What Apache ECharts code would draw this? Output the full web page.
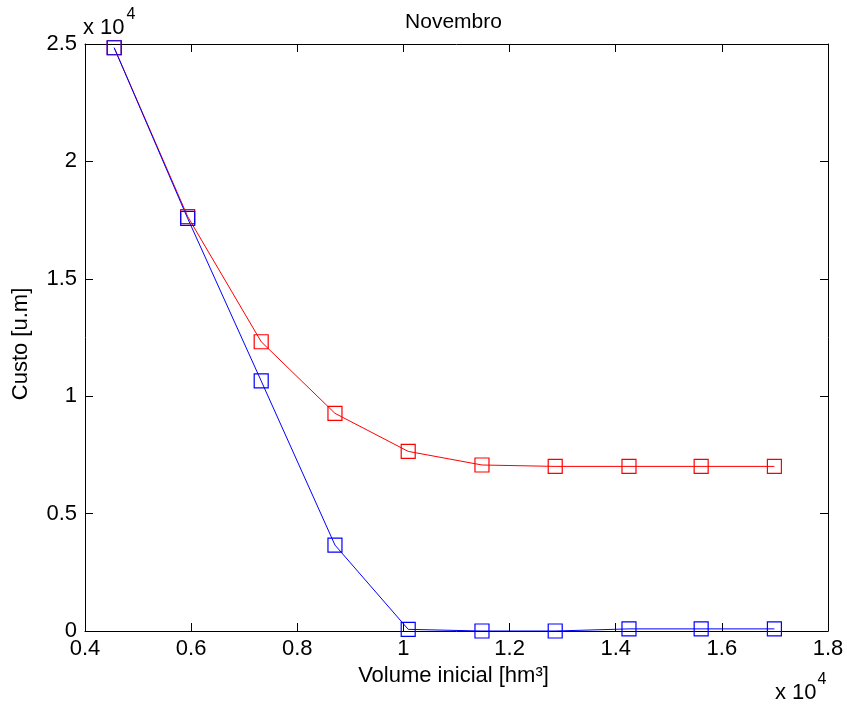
<!DOCTYPE html>
<html>
<head>
<meta charset="utf-8">
<script src="https://cdn.jsdelivr.net/npm/echarts@6/dist/echarts.min.js"></script>
<style>
html,body{margin:0;padding:0;background:#fff;}
#chart{width:847px;height:705px;}
</style>
</head>
<body>
<div id="chart"></div>
<script>
var volumes = [4550, 5935, 7320, 8710, 10090, 11480, 12860, 14250, 15610, 16990];
var custoRed = [24840, 17650, 12320, 9270, 7650, 7070, 7010, 7010, 7010, 7010];
var custoBlue = [24840, 17570, 10650, 3660, 70, 0, 0, 90, 90, 90];
var xTickLabels = {4000:'0.4',6000:'0.6',8000:'0.8',10000:'1',12000:'1.2',14000:'1.4',16000:'1.6',18000:'1.8'};
var yTickLabels = {0:'0',5000:'0.5',10000:'1',15000:'1.5',20000:'2',25000:'2.5'};

var FONT = 'Liberation Sans, Arial, Helvetica, sans-serif';
var chart = echarts.init(document.getElementById('chart'), null, {renderer:'canvas'});

function pairs(xs, ys){ return xs.map(function(x,i){ return [x, ys[i]]; }); }

var axisCommon = {
  type:'value',
  axisLine:{show:true, onZero:false, lineStyle:{color:'#000', width:1}},
  axisTick:{show:true, inside:true, length:8, lineStyle:{color:'#000', width:1}},
  splitLine:{show:false}
};

var option = {
  animation:false,
  backgroundColor:'#fff',
  grid:{left:85, right:19, top:44, bottom:74, containLabel:false},
  xAxis:[
    Object.assign({}, axisCommon, {
      position:'bottom', min:4000, max:18000, interval:2000,
      axisLabel:{show:true, margin:7, color:'#000', fontSize:22, fontFamily:FONT,
        formatter:function(v){ return xTickLabels[v] !== undefined ? xTickLabels[v] : ''; }}
    }),
    Object.assign({}, axisCommon, {
      position:'top', min:4000, max:18000, interval:2000,
      axisLabel:{show:false}
    })
  ],
  yAxis:[
    Object.assign({}, axisCommon, {
      position:'left', min:0, max:25000, interval:5000,
      axisLabel:{show:true, margin:8, color:'#000', fontSize:22, fontFamily:FONT,
        formatter:function(v){ return yTickLabels[v] !== undefined ? yTickLabels[v] : ''; }}
    }),
    Object.assign({}, axisCommon, {
      position:'right', min:0, max:25000, interval:5000,
      axisLabel:{show:false}
    })
  ],
  series:[
    {
      type:'line', xAxisIndex:0, yAxisIndex:0,
      data:pairs(volumes, custoRed),
      symbol:'rect', symbolSize:14, showAllSymbol:true,
      lineStyle:{color:'#ff0000', width:1},
      itemStyle:{color:'rgba(0,0,0,0)', borderColor:'#ff0000', borderWidth:1.2},
      emphasis:{disabled:true}
    },
    {
      type:'line', xAxisIndex:0, yAxisIndex:0,
      data:pairs(volumes, custoBlue),
      symbol:'rect', symbolSize:14, showAllSymbol:true,
      lineStyle:{color:'#0000ff', width:1},
      itemStyle:{color:'rgba(0,0,0,0)', borderColor:'#0000ff', borderWidth:1.2},
      emphasis:{disabled:true}
    }
  ],
  graphic:[
    {type:'text', x:453.5, y:22.5, style:{text:'Novembro', fontSize:21, fontFamily:FONT, fill:'#000', align:'center', verticalAlign:'middle'}},
    {type:'text', x:453.5, y:676, style:{text:'Volume inicial [hm³]', fontSize:22, fontFamily:FONT, fill:'#000', align:'center', verticalAlign:'middle'}},
    {type:'text', x:21, y:344, rotation:Math.PI/2, style:{text:'Custo [u.m]', fontSize:22, fontFamily:FONT, fill:'#000', align:'center', verticalAlign:'middle'}},
    {type:'text', x:83, y:27.5, style:{text:'x 10', fontSize:22, fontFamily:FONT, fill:'#000', align:'left', verticalAlign:'middle'}},
    {type:'text', x:126.5, y:14.5, style:{text:'4', fontSize:16, fontFamily:FONT, fill:'#000', align:'left', verticalAlign:'middle'}},
    {type:'text', x:775, y:692.5, style:{text:'x 10', fontSize:22, fontFamily:FONT, fill:'#000', align:'left', verticalAlign:'middle'}},
    {type:'text', x:817.5, y:679.5, style:{text:'4', fontSize:16, fontFamily:FONT, fill:'#000', align:'left', verticalAlign:'middle'}}
  ]
};
chart.setOption(option);
</script>
</body>
</html>
